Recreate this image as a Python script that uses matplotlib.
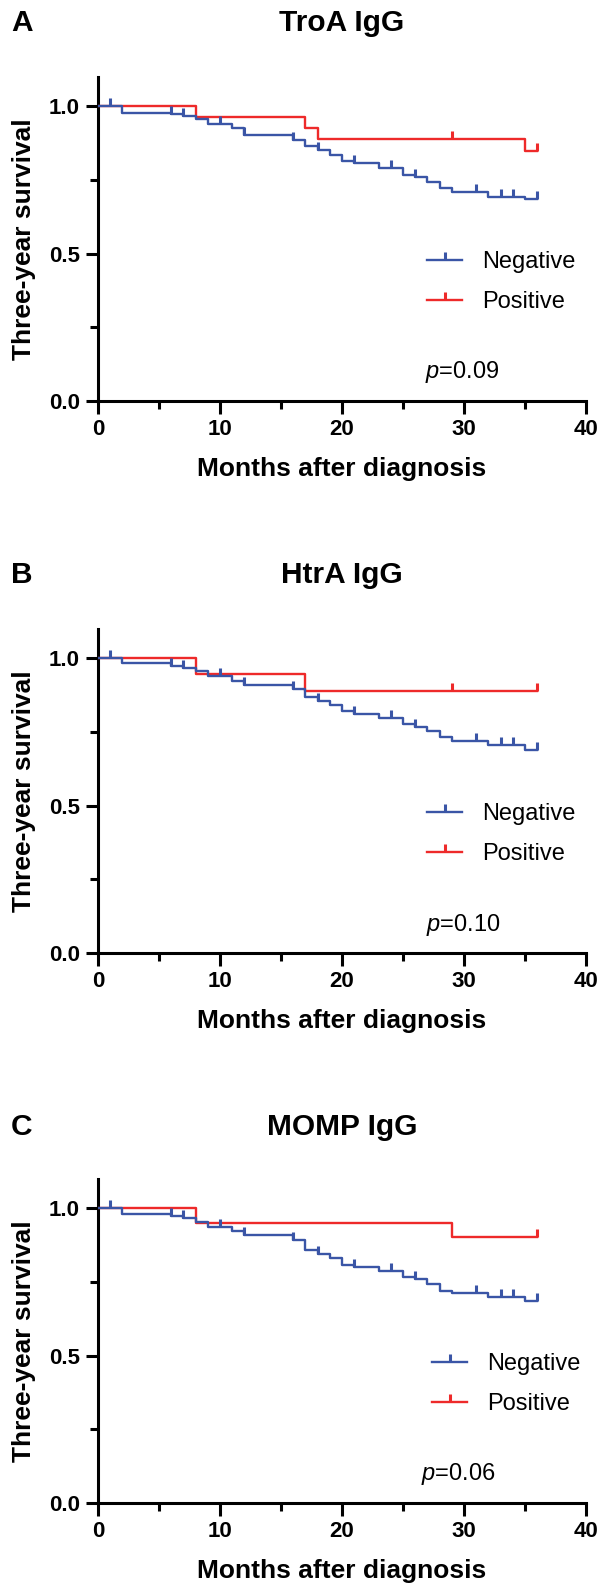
import numpy as np
import matplotlib
matplotlib.use("Agg")
import matplotlib.pyplot as plt
from matplotlib.lines import Line2D
from matplotlib.ticker import MultipleLocator, FormatStrFormatter

plt.rcParams['font.family'] = ['Liberation Sans', 'DejaVu Sans']
plt.rcParams['mathtext.fontset'] = 'custom'
plt.rcParams['mathtext.it'] = 'Liberation Sans:italic'
plt.rcParams['mathtext.rm'] = 'Liberation Sans'

# Dados
letters = ['A', 'B', 'C']
titles = ['TroA IgG', 'HtrA IgG', 'MOMP IgG']
p_values = ['0.09', '0.10', '0.06']
labels = ['Negative', 'Positive']

neg_t = [0, 2, 6, 7, 8, 9, 11, 12, 16, 17, 18, 19, 20, 21, 23, 25, 26, 27, 28, 29, 32, 35, 36]
neg_a = [1.0, 0.977, 0.972, 0.966, 0.957, 0.940, 0.924, 0.903, 0.886, 0.863, 0.852, 0.835,
         0.812, 0.807, 0.790, 0.767, 0.758, 0.744, 0.721, 0.708, 0.693, 0.685, 0.685]
neg_b = [1.0, 0.982, 0.974, 0.966, 0.957, 0.940, 0.923, 0.909, 0.894, 0.868, 0.854, 0.839,
         0.820, 0.809, 0.797, 0.775, 0.767, 0.754, 0.733, 0.720, 0.704, 0.689, 0.689]
neg_c = [1.0, 0.980, 0.972, 0.966, 0.954, 0.937, 0.923, 0.907, 0.892, 0.858, 0.844, 0.829,
         0.807, 0.801, 0.786, 0.765, 0.758, 0.744, 0.719, 0.713, 0.699, 0.684, 0.684]
neg_cens = [1, 6, 7, 10, 12, 16, 18, 21, 24, 26, 31, 33, 34, 36]

pos_a_t = [0, 8, 17, 18, 35, 36]
pos_a = [1.0, 0.963, 0.926, 0.888, 0.846, 0.846]
pos_a_cens = [29, 36]
pos_b_t = [0, 8, 17, 36]
pos_b = [1.0, 0.947, 0.888, 0.888]
pos_b_cens = [29, 36]
pos_c_t = [0, 8, 29, 36]
pos_c = [1.0, 0.950, 0.901, 0.901]
pos_c_cens = [36]

neg_series = [(neg_t, neg_a), (neg_t, neg_b), (neg_t, neg_c)]
pos_series = [(pos_a_t, pos_a, pos_a_cens), (pos_b_t, pos_b, pos_b_cens), (pos_c_t, pos_c, pos_c_cens)]

# Layout
W, H = 603, 1589
blue = '#3A55A6'
red = '#EE2A2A'
ax_left, ax_right = 98, 586
x_axis_px = [401, 953, 1503]
unit_px = 295
leg_x = [0.674, 0.674, 0.684]
p_pos = [(26.8, 0.098), (26.9, 0.096), (26.5, 0.099)]
title_px = [23, 575, 1127]


def surv_at(t, s, c):
    idx = np.searchsorted(t, c, side='right') - 1
    return np.asarray(s)[idx]


fig = plt.figure(figsize=(W / 100, H / 100), dpi=100)

for i in range(3):
    bottom = x_axis_px[i]
    top = bottom - 1.1 * unit_px
    ax = fig.add_axes([ax_left / W, 1 - bottom / H, (ax_right - ax_left) / W, (bottom - top) / H])

    pt, ps, pc = pos_series[i]
    ax.step(pt, ps, where='post', color=red, lw=1.7, zorder=3)
    ax.plot(pc, surv_at(pt, ps, pc), ls='none', marker=2, ms=6, mew=2.2, color=red, zorder=3)

    nt, ns = neg_series[i]
    ax.step(nt, ns, where='post', color=blue, lw=1.7, zorder=4)
    ax.plot(neg_cens, surv_at(nt, ns, neg_cens), ls='none', marker=2, ms=6, mew=2.2, color=blue, zorder=4)

    ax.set_xlim(0, 40)
    ax.set_ylim(0, 1.1)
    ax.xaxis.set_major_locator(MultipleLocator(10))
    ax.xaxis.set_minor_locator(MultipleLocator(5))
    ax.yaxis.set_major_locator(MultipleLocator(0.5))
    ax.yaxis.set_minor_locator(MultipleLocator(0.25))
    ax.yaxis.set_major_formatter(FormatStrFormatter('%.1f'))
    for side in ['top', 'right']:
        ax.spines[side].set_visible(False)
    for side in ['left', 'bottom']:
        ax.spines[side].set_linewidth(2.2)
    ax.tick_params(which='major', length=9, width=2.2, labelsize=16, pad=4)
    ax.tick_params(which='minor', length=5.5, width=2.2)
    for lab in ax.get_xticklabels() + ax.get_yticklabels():
        lab.set_fontweight('bold')
    ax.set_xlabel('Months after diagnosis', fontsize=19, fontweight='bold', labelpad=12)
    ax.set_ylabel('Three-year survival', fontsize=19, fontweight='bold', labelpad=9)

    handles = [Line2D([], [], color=blue, lw=1.7, marker=2, ms=6, mew=2.2),
               Line2D([], [], color=red, lw=1.7, marker=2, ms=6, mew=2.2)]
    ax.legend(handles, labels, loc='center left', bbox_to_anchor=(leg_x[i], 0.366),
              frameon=False, fontsize=17, handlelength=1.5, handletextpad=0.85,
              labelspacing=0.75, borderpad=0, borderaxespad=0, numpoints=1)

    px, py = p_pos[i]
    ax.text(px, py, '$p$=' + p_values[i], fontsize=17, va='center', ha='left')

    title_y = 1 - title_px[i] / H
    fig.text(342 / W, title_y, titles[i], fontsize=21.5, fontweight='bold', ha='center', va='center')
    fig.text(11 / W, title_y, letters[i], fontsize=21.5, fontweight='bold', ha='left', va='center')

fig.savefig('out.png', dpi=100)
